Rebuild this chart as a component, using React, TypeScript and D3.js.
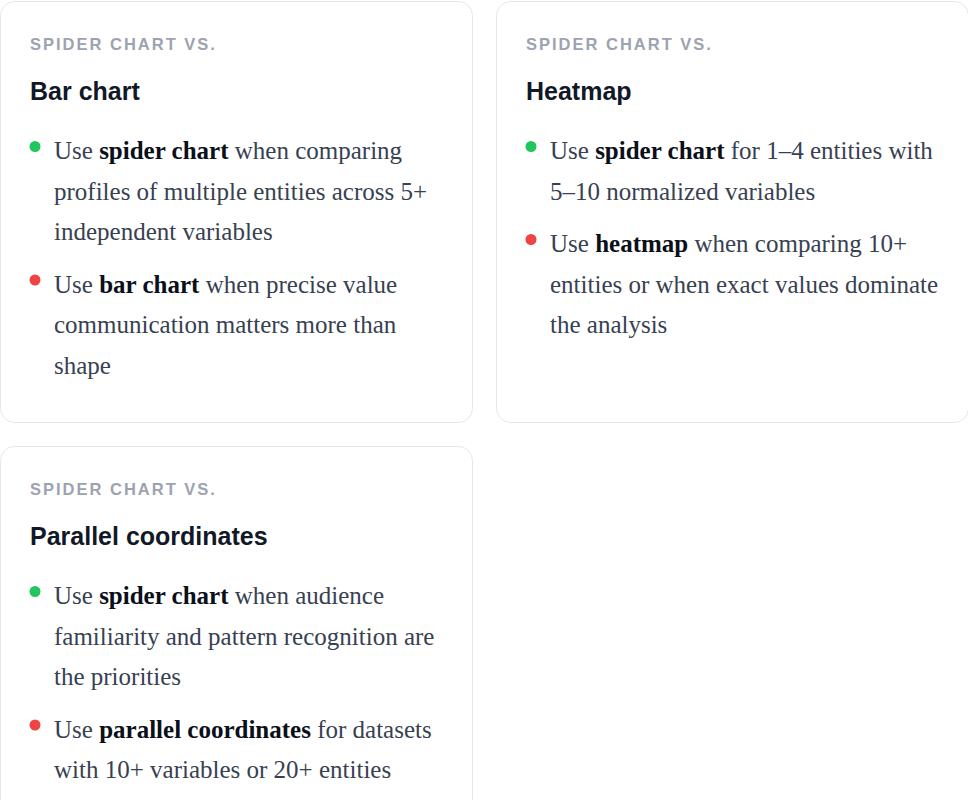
import { useEffect, useRef } from 'react';
import * as d3 from 'd3';

// Card content
const eyebrows = ['SPIDER CHART VS.', 'SPIDER CHART VS.', 'SPIDER CHART VS.'];
const titles = ['Bar chart', 'Heatmap', 'Parallel coordinates'];

// Each item: [kind, ...pre-wrapped lines]; **text** marks bold words
const barItems: string[][] = [
  ['pro', 'Use **spider chart** when comparing', 'profiles of multiple entities across 5+', 'independent variables'],
  ['con', 'Use **bar chart** when precise value', 'communication matters more than', 'shape'],
];
const heatmapItems: string[][] = [
  ['pro', 'Use **spider chart** for 1–4 entities with', '5–10 normalized variables'],
  ['con', 'Use **heatmap** when comparing 10+', 'entities or when exact values dominate', 'the analysis'],
];
const parallelItems: string[][] = [
  ['pro', 'Use **spider chart** when audience', 'familiarity and pattern recognition are', 'the priorities'],
  ['con', 'Use **parallel coordinates** for datasets', 'with 10+ variables or 20+ entities'],
];
const cardItems = [barItems, heatmapItems, parallelItems];
const cardCells = [[0, 0], [1, 0], [0, 1]]; // [column, row]

const W = 968;
const H = 800;

export default function App() {
  const svgRef = useRef<SVGSVGElement>(null);

  useEffect(() => {
    if (!svgRef.current) return;
    const svg = d3.select(svgRef.current);
    svg.selectAll('*').remove();

    const cardW = 472;
    const gap = 24;
    const top = 1.5;
    const rowTops = [top, top + 421 + gap];
    const rowHeights = [421, 380];
    const lineH = 40.5;
    const itemGap = 12;

    const colX = d3.scaleLinear().domain([0, 1]).range([0.5, 0.5 + cardW + gap]);

    const dotColor = d3.scaleOrdinal<string, string>()
      .domain(['pro', 'con'])
      .range(['#22c55e', '#ef4444']);

    titles.forEach((title, i) => {
      const [col, row] = cardCells[i];
      const x0 = colX(col);
      const y0 = rowTops[row];
      const g = svg.append('g').attr('transform', `translate(${x0},${y0})`);

      g.append('rect')
        .attr('width', cardW)
        .attr('height', rowHeights[row])
        .attr('rx', 14)
        .attr('fill', '#ffffff')
        .attr('stroke', '#e5e7eb')
        .attr('stroke-width', 1);

      g.append('text')
        .attr('x', 29.5)
        .attr('y', 48)
        .attr('fill', '#9ca3af')
        .attr('font-family', "'Liberation Sans', Arial, sans-serif")
        .attr('font-size', 16.5)
        .attr('font-weight', 700)
        .attr('letter-spacing', '2px')
        .text(eyebrows[i]);

      g.append('text')
        .attr('x', 29.5)
        .attr('y', 98)
        .attr('fill', '#111827')
        .attr('font-family', "'Liberation Sans', Arial, sans-serif")
        .attr('font-size', 25)
        .attr('font-weight', 700)
        .text(title);

      let baseline = 157.5;
      cardItems[i].forEach(([kind, ...lines]) => {
        g.append('circle')
          .attr('cx', 34.5)
          .attr('cy', baseline - 12.5)
          .attr('r', 5.5)
          .attr('fill', dotColor(kind));

        lines.forEach((line, li) => {
          const t = g.append('text')
            .attr('x', 53.5)
            .attr('y', baseline + li * lineH)
            .attr('font-family', "'Liberation Serif', Georgia, serif")
            .attr('font-size', 25)
            .attr('fill', '#374151')
            .style('white-space', 'pre');
          line.split('**').forEach((seg, si) => {
            if (!seg) return;
            const bold = si % 2 === 1;
            t.append('tspan')
              .attr('font-weight', bold ? 700 : 400)
              .attr('fill', bold ? '#0b0f19' : '#374151')
              .text(seg);
          });
        });
        baseline += lines.length * lineH + itemGap;
      });
    });
  }, []);

  return (
    <svg
      ref={svgRef}
      width={W}
      height={H}
      style={{ position: 'absolute', left: 0, top: 0, display: 'block', background: '#ffffff' }}
    />
  );
}
